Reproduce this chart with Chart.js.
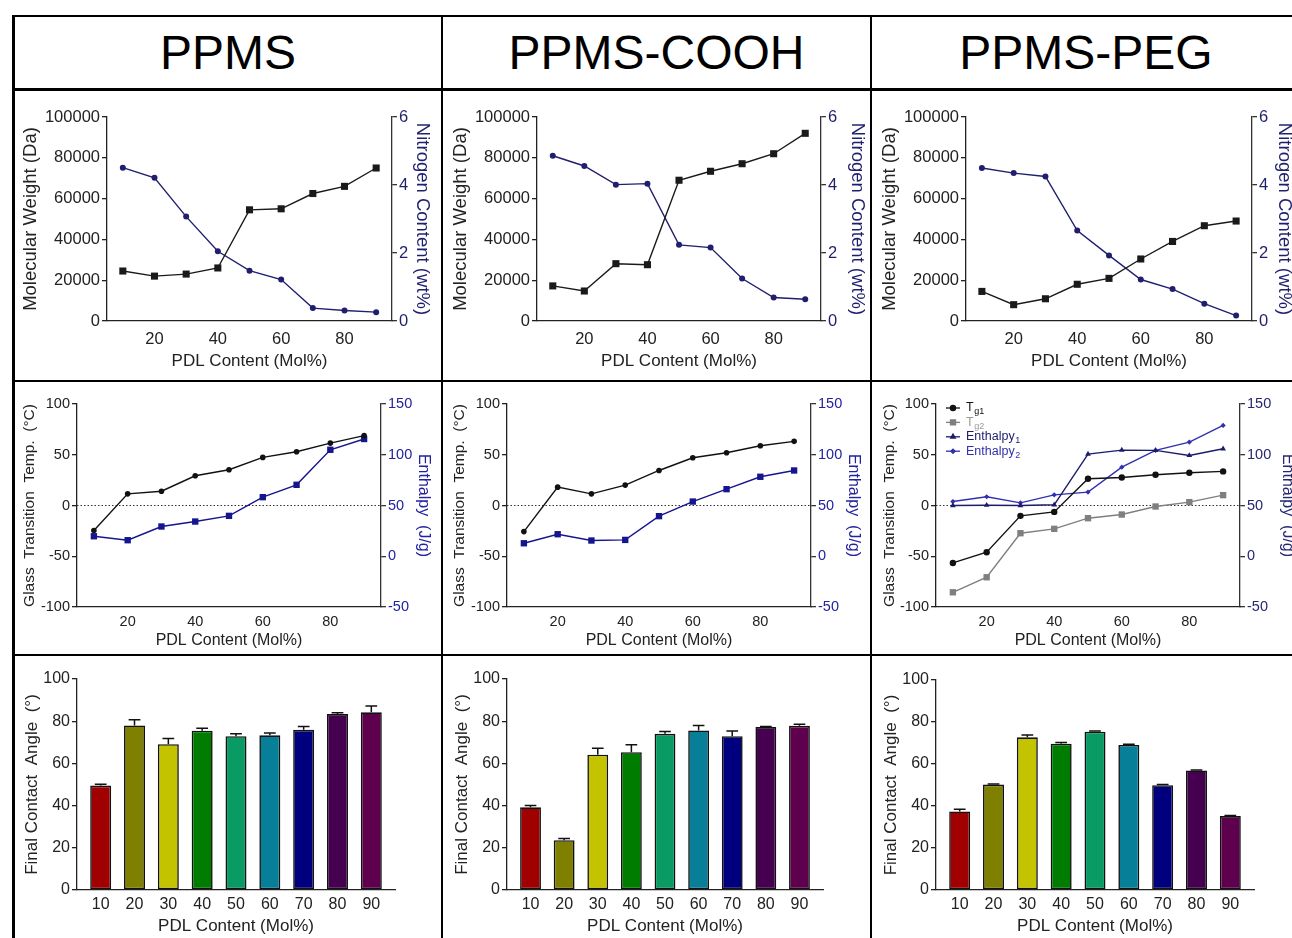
<!DOCTYPE html>
<html>
<head>
<meta charset="utf-8">
<script src="https://cdn.jsdelivr.net/npm/chart.js"></script>
<style>
  body { margin: 0; width: 1292px; height: 938px; overflow: hidden; background: #fff; position: relative;
         font-family: 'Liberation Sans', Arial, sans-serif; }
  .ln { position: absolute; background: #000; }
  .head { position: absolute; display: flex; align-items: center; justify-content: center; font-size: 48px; color: #000; }
  canvas { position: absolute; }
</style>
</head>
<body>
<!-- frame -->
<div class="ln" style="left:12px; top:15px; width:3px; height:923px"></div>
<div class="ln" style="left:12px; top:15px; width:1290px; height:2px"></div>
<div class="ln" style="left:12px; top:88px; width:1290px; height:3px"></div>
<div class="ln" style="left:12px; top:380px; width:1290px; height:2px"></div>
<div class="ln" style="left:12px; top:654px; width:1290px; height:2px"></div>
<div class="ln" style="left:441px; top:15px; width:2px; height:923px"></div>
<div class="ln" style="left:870px; top:15px; width:2px; height:923px"></div>

<div class="head" style="left:15px; top:17px; width:426px; height:71px">PPMS</div>
<div class="head" style="left:443px; top:17px; width:427px; height:71px">PPMS-COOH</div>
<div class="head" style="left:872px; top:17px; width:428px; height:71px">PPMS-PEG</div>

<canvas id="mw1"></canvas><canvas id="mw2"></canvas><canvas id="mw3"></canvas>
<canvas id="tg1"></canvas><canvas id="tg2"></canvas><canvas id="tg3"></canvas>
<canvas id="ca1"></canvas><canvas id="ca2"></canvas><canvas id="ca3"></canvas>

<script>
// ---- data ----
const pdl = [10, 20, 30, 40, 50, 60, 70, 80, 90];
const lineTicks = [20, 40, 60, 80];

// molecular weight (Da) and nitrogen content (wt%)
const mwPPMS = [24500, 22000, 23000, 26000, 54500, 55000, 62500, 66000, 75000];
const nPPMS = [4.51, 4.21, 3.07, 2.05, 1.48, 1.22, 0.38, 0.31, 0.26];
const mwCOOH = [17200, 14700, 28100, 27600, 69000, 73400, 77100, 82000, 92000];
const nCOOH = [4.86, 4.56, 4.01, 4.04, 2.24, 2.16, 1.25, 0.69, 0.64];
const mwPEG = [14500, 8000, 10900, 18000, 20900, 30400, 39000, 46700, 49000];
const nPEG = [4.50, 4.35, 4.25, 2.66, 1.93, 1.22, 0.94, 0.51, 0.16];

// glass transition temp (C) and enthalpy (J/g)
const tgPPMS = [-24.7, 11.5, 14.1, 29.3, 35.2, 47.4, 53.0, 61.5, 68.8];
const dhPPMS = [19.7, 15.8, 29.3, 34.2, 39.8, 58.2, 70.4, 104.9, 115.5];
const tgCOOH = [-25.7, 18.1, 11.5, 20.1, 34.5, 47.0, 52.0, 58.9, 63.2];
const dhCOOH = [12.8, 21.7, 15.5, 16.1, 39.5, 53.9, 66.1, 78.3, 84.5];
const tg1PEG = [-56.6, -46.0, -10.2, -6.3, 26.3, 27.6, 30.3, 32.2, 33.6];
const tg2PEG = [-85.5, -70.7, -27.3, -23.0, -12.5, -8.9, -1.0, 3.3, 10.2];
const dh1PEG = [50.0, 50.3, 50.0, 50.7, 100.7, 104.6, 104.3, 99.3, 105.9];
const dh2PEG = [53.9, 58.6, 52.6, 60.5, 63.2, 87.8, 104.3, 112.5, 128.9];

// final contact angle (deg) with SD
const caPPMS = [49.5, 78.0, 69.1, 75.5, 72.9, 73.3, 75.9, 83.4, 84.2];
const caErrPPMS = [0.6, 2.7, 2.7, 1.1, 1.1, 1.1, 1.6, 0.6, 3.0];
const caCOOH = [39.2, 23.6, 64.1, 65.3, 74.0, 75.6, 72.9, 77.2, 77.8];
const caErrCOOH = [0.8, 0.8, 3.1, 3.5, 1.1, 2.4, 2.4, 0.3, 0.7];
const caPEG = [37.4, 50.2, 72.7, 69.7, 75.4, 69.1, 49.9, 56.9, 35.2];
const caErrPEG = [1.1, 0.3, 1.1, 0.5, 0.3, 0.3, 0.3, 0.3, 0.3];

const barColors = ['#a00000', '#808000', '#c3c300', '#007c00', '#0a9a64', '#087f99', '#00007f', '#450050', '#5e004e'];

const mwTicks = [0, 20000, 40000, 60000, 80000, 100000];
const nTicks = [0, 2, 4, 6];
const tgTicks = [-100, -50, 0, 50, 100];
const dhTicks = [-50, 0, 50, 100, 150];
const caTicks = [0, 20, 40, 60, 80, 100];

// ---- defaults ----
Chart.defaults.font.family = "'Liberation Sans', Arial, sans-serif";
Chart.defaults.color = '#222';
Chart.defaults.animation = false;
Chart.defaults.events = [];
Chart.defaults.plugins.legend.display = false;
Chart.defaults.plugins.tooltip.enabled = false;

const AX = '#222';

function pts(vals) {
    return pdl.map((x, i) => ({ x: x, y: vals[i] }));
}

// dotted line at y = 0
const zeroLine = {
    id: 'zeroLine',
    beforeDatasetsDraw(chart) {
        const a = chart.chartArea, y = chart.scales.y.getPixelForValue(0);
        const ctx = chart.ctx;
        ctx.save();
        ctx.strokeStyle = '#333';
        ctx.lineWidth = 1.1;
        ctx.setLineDash([1.5, 2]);
        ctx.beginPath();
        ctx.moveTo(a.left, y);
        ctx.lineTo(a.right, y);
        ctx.stroke();
        ctx.restore();
    }
};

// upward error bars for the bar charts
const errorBars = {
    id: 'errorBars',
    afterDatasetsDraw(chart, args, opts) {
        if (!opts.values) return;
        const ctx = chart.ctx, ys = chart.scales.y;
        const ds = chart.data.datasets[0];
        ctx.save();
        ctx.strokeStyle = '#111';
        ctx.lineWidth = 1.5;
        chart.getDatasetMeta(0).data.forEach(function (bar, i) {
            const top = ys.getPixelForValue(ds.data[i].y + opts.values[i]);
            const half = bar.width * 0.28;
            ctx.beginPath();
            ctx.moveTo(bar.x, bar.y);
            ctx.lineTo(bar.x, top);
            ctx.moveTo(bar.x - half, top);
            ctx.lineTo(bar.x + half, top);
            ctx.stroke();
        });
        ctx.restore();
    }
};

// legend with subscripts (label text "T_g1" -> T + subscript g1)
const subLegend = {
    id: 'subLegend',
    afterDraw(chart) {
        const ctx = chart.ctx, a = chart.chartArea;
        ctx.save();
        chart.data.datasets.forEach(function (ds, i) {
            const parts = ds.label.split('_');
            const x = a.left + 10, y = a.top + 4 + i * 14.4;
            ctx.strokeStyle = ds.borderColor;
            ctx.lineWidth = 1.3;
            ctx.beginPath();
            ctx.moveTo(x, y);
            ctx.lineTo(x + 14, y);
            ctx.stroke();
            ctx.fillStyle = ds.borderColor;
            Chart.helpers.drawPoint(ctx, {
                pointStyle: ds.pointStyle, radius: ds.pointRadius * 0.8, borderWidth: 1
            }, x + 7, y);
            ctx.fillStyle = ds.legendColor || ds.borderColor;
            ctx.textBaseline = 'middle';
            ctx.font = "12.5px 'Liberation Sans', Arial, sans-serif";
            ctx.fillText(parts[0], x + 20, y);
            const w = ctx.measureText(parts[0]).width;
            ctx.font = "9px 'Liberation Sans', Arial, sans-serif";
            ctx.fillText(parts[1], x + 20 + w + 0.5, y + 4);
        });
        ctx.restore();
    }
};

function yAxis(pos, ticks, color, title, sz, tsz, tpad, borderColor) {
    return {
        type: 'linear', position: pos,
        min: ticks[0], max: ticks[ticks.length - 1],
        afterBuildTicks: s => { s.ticks = ticks.map(v => ({ value: v })); },
        ticks: { color: color, font: { size: sz }, padding: 2, callback: v => String(v) },
        grid: { drawOnChartArea: false, color: borderColor || AX, tickLength: 5, lineWidth: 1.3 },
        border: { color: borderColor || AX, width: 1.3 },
        title: { display: true, text: title, color: color, font: { size: tsz }, padding: { top: tpad, bottom: 0 } }
    };
}

function xAxis(min, max, ticks, sz, tickPad, tsz, tpad) {
    return {
        type: 'linear', position: 'bottom', min: min, max: max, offset: false,
        afterBuildTicks: s => { s.ticks = ticks.map(v => ({ value: v })); },
        ticks: { color: AX, font: { size: sz }, padding: tickPad, maxRotation: 0, callback: v => String(v) },
        grid: { display: false, drawTicks: false, offset: false },
        border: { color: AX, width: 1.3 },
        title: { display: true, text: 'PDL Content (Mol%)', color: AX, font: { size: tsz }, padding: { top: 0, bottom: tpad } }
    };
}

// cell = [x, y, w, h] of the canvas, plot = [left, top, right, bottom] of the plot area (page px)
function build(id, cell, plot, type, datasets, scales, extra) {
    const cv = document.getElementById(id);
    cv.width = cell[2];
    cv.height = cell[3];
    cv.style.left = cell[0] + 'px';
    cv.style.top = cell[1] + 'px';
    const rightGap = cell[0] + cell[2] - plot[2];
    scales.x.afterFit = s => { s.height = cell[1] + cell[3] - plot[3]; };
    scales.y.afterFit = s => { s.width = plot[0] - cell[0]; };
    if (scales.y2) scales.y2.afterFit = s => { s.width = rightGap; };
    return new Chart(cv, {
        type: type,
        data: { datasets: datasets },
        plugins: extra.plugins || [],
        options: {
            responsive: false,
            layout: { padding: { top: plot[1] - cell[1], left: 0, right: scales.y2 ? 0 : rightGap, bottom: 0 } },
            scales: scales,
            plugins: extra.options || {}
        }
    });
}

function lineDs(vals, color, style, r, axis, label) {
    return {
        label: label || '', data: pts(vals), yAxisID: axis,
        borderColor: color, backgroundColor: color, borderWidth: 1.4,
        pointStyle: style, pointRadius: r, pointBorderWidth: 0, tension: 0, clip: false
    };
}

// ---- row 1: molecular weight / nitrogen content ----
const NAVY = '#1f1f6e';
const rows1 = [
    ['mw1', [15, 91, 426, 289], [107, 117, 392, 321], mwPPMS, nPPMS, 5, 8],
    ['mw2', [443, 91, 427, 289], [537, 117, 821, 321], mwCOOH, nCOOH, 7, 2],
    ['mw3', [872, 91, 428, 289], [966, 117, 1252, 321], mwPEG, nPEG, 7, 5]
];
rows1.forEach(function (r) {
    build(r[0], r[1], r[2], 'line', [
        lineDs(r[3], '#1a1a1a', 'rect', 5, 'y'),
        lineDs(r[4], NAVY, 'circle', 3, 'y2')
    ], {
        x: xAxis(5, 95, lineTicks, 16.5, 9, 17, 8),
        y: yAxis('left', mwTicks, AX, 'Molecular Weight (Da)', 16.5, 18.5, r[5]),
        y2: yAxis('right', nTicks, NAVY, 'Nitrogen Content (wt%)', 16.5, 18.5, r[6], '#333')
    }, {});
});

// ---- row 2: glass transition / enthalpy ----
const BLUE = '#15158f';
const rows2 = [
    ['tg1', [15, 382, 426, 272], [77, 404, 381, 607], tgPPMS, dhPPMS, 5, 8],
    ['tg2', [443, 382, 427, 272], [507, 404, 811, 607], tgCOOH, dhCOOH, 7, 7]
];
rows2.forEach(function (r) {
    build(r[0], r[1], r[2], 'line', [
        lineDs(r[3], '#111', 'circle', 2.8, 'y'),
        lineDs(r[4], BLUE, 'rect', 4.5, 'y2')
    ], {
        x: xAxis(5, 95, lineTicks, 14.5, 6, 16, 4),
        y: yAxis('left', tgTicks, AX, 'Glass  Transition  Temp.  (°C)', 14.5, 15.5, r[5]),
        y2: yAxis('right', dhTicks, '#2222a0', 'Enthalpy  (J/g)', 14.5, 16, r[6], '#333')
    }, { plugins: [zeroLine] });
});

const pegSets = [
    lineDs(tg1PEG, '#111', 'circle', 3.2, 'y', 'T_g1'),
    lineDs(tg2PEG, '#7f7f7f', 'rect', 4.5, 'y', 'T_g2'),
    lineDs(dh1PEG, '#1c1c6a', 'triangle', 3.3, 'y2', 'Enthalpy_1'),
    lineDs(dh2PEG, '#3030b0', 'rectRot', 2.6, 'y2', 'Enthalpy_2')
];
pegSets[1].legendColor = '#9a9a9a';
build('tg3', [872, 382, 428, 272], [936, 404, 1240, 607], 'line', pegSets, {
    x: xAxis(5, 95, lineTicks, 14.5, 6, 16, 4),
    y: yAxis('left', tgTicks, AX, 'Glass  Transition  Temp.  (°C)', 14.5, 15.5, 8),
    y2: yAxis('right', dhTicks, '#262673', 'Enthalpy  (J/g)', 14.5, 16, 3, '#333')
}, { plugins: [zeroLine, subLegend] });

// ---- row 3: final contact angle ----
const rows3 = [
    ['ca1', [15, 656, 426, 282], [77, 679, 395, 890], caPPMS, caErrPPMS, 7],
    ['ca2', [443, 656, 427, 282], [507, 679, 823, 890], caCOOH, caErrCOOH, 9],
    ['ca3', [872, 656, 428, 282], [936, 680, 1254, 890], caPEG, caErrPEG, 9]
];
rows3.forEach(function (r) {
    build(r[0], r[1], r[2], 'bar', [{
        data: pts(r[3]), backgroundColor: barColors, borderColor: '#111', borderWidth: 1.6,
        borderSkipped: false, barPercentage: 0.62, categoryPercentage: 1
    }], {
        x: xAxis(3, 97, pdl, 16, 5, 17, 1),
        y: yAxis('left', caTicks, AX, 'Final Contact  Angle  (°)', 16, 17, r[5])
    }, { plugins: [errorBars], options: { errorBars: { values: r[4] } } });
});
</script>
</body>
</html>
